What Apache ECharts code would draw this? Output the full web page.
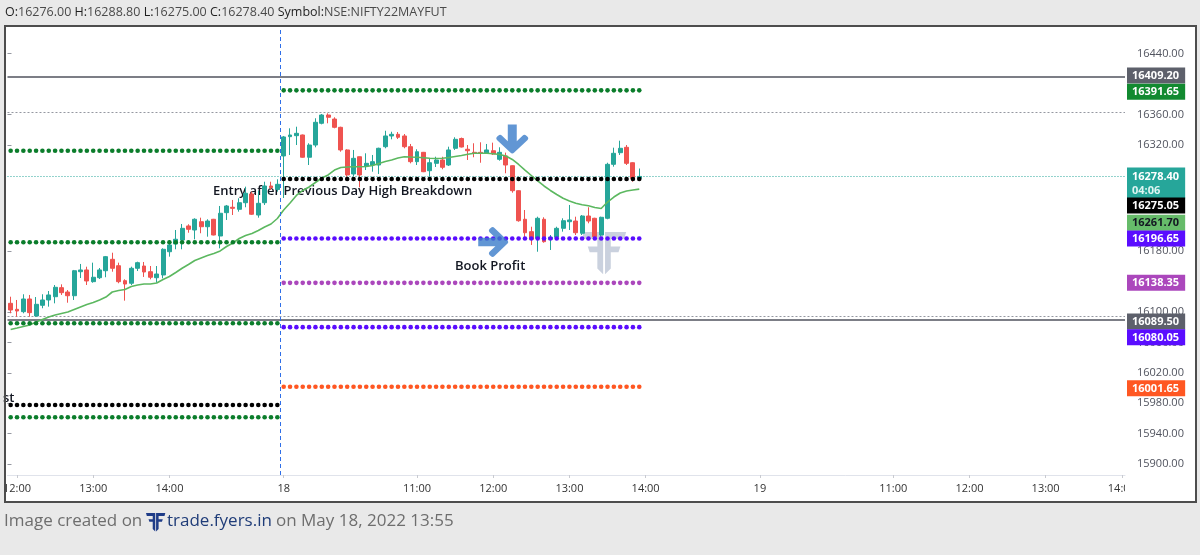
<!DOCTYPE html>
<html><head><meta charset="utf-8">
<script src="https://cdn.jsdelivr.net/npm/echarts@6/dist/echarts.min.js"></script>
<style>html,body{margin:0;padding:0;background:#e9e9e9;}#c{width:1200px;height:555px;}</style>
</head><body><div id="c"></div>
<script>
// ---------------- DATA ----------------
const sessionDays  = ['2022-05-17', '2022-05-18', '2022-05-19'];
const sessionStart = ['11:55', '09:15', '09:15'];
const sessionEnd   = ['15:25', '15:25', '14:00'];

const xTickIndex = [1, 13, 25, 43, 64, 76, 88, 100, 118, 139, 151, 163, 175];
const xTickText  = ['12:00','13:00','14:00','18','11:00','12:00','13:00','14:00','19','11:00','12:00','13:00','14:00'];

const yTickValues = [16440, 16360, 16320, 16180, 16100, 16060, 16020, 15980, 15940, 15900];

// [open, high, low, close]
const ohlcDay17 = [
 [16111.4,16120.1,16098.3,16102.6],[16103.5,16115.8,16093.8,16101.3],[16100.4,16123.3,16098.3,16117.1],
 [16117.1,16122.4,16093.8,16099.1],[16094.7,16119.7,16093.8,16110.1],[16108.8,16123.3,16104.9,16115.8],
 [16115.8,16127.6,16107.0,16122.4],[16120.1,16135.5,16111.4,16132.5],[16132.0,16136.4,16122.4,16125.4],
 [16126.3,16128.9,16112.2,16121.4],[16121.4,16155.3,16115.8,16154.3],[16153.0,16163.2,16144.7,16155.3],
 [16155.3,16159.6,16135.5,16140.8],[16139.9,16164.9,16138.5,16145.7],[16145.1,16157.9,16143.4,16155.3],
 [16154.3,16173.7,16145.7,16172.8],[16169.3,16178.0,16153.0,16157.5],[16160.9,16164.9,16137.8,16139.9],
 [16141.2,16143.0,16114.9,16136.8],[16137.8,16159.6,16135.5,16157.5],[16157.5,16166.2,16153.9,16164.9],
 [16160.5,16165.8,16146.1,16152.6],[16153.0,16160.5,16143.0,16145.7],[16145.1,16160.5,16138.5,16150.0],
 [16148.7,16183.8,16144.3,16182.5],[16179.3,16194.7,16172.8,16188.2],[16189.5,16207.9,16182.5,16195.7],
 [16194.7,16215.8,16182.5,16210.1],[16213.2,16215.4,16204.3,16208.8],[16207.9,16223.3,16195.6,16222.0],
 [16218.8,16224.1,16203.6,16212.2],[16212.2,16222.0,16199.1,16219.7],[16222.0,16222.5,16200.8,16201.3],
 [16200.0,16239.5,16183.8,16229.9],[16230.7,16240.8,16221.1,16239.5],[16237.8,16247.4,16227.6,16236.4],
 [16235.1,16249.6,16232.0,16243.8],[16243.8,16264.9,16237.8,16256.2],[16255.3,16258.3,16227.6,16228.6],
 [16227.6,16259.6,16224.1,16243.0],[16243.8,16271.4,16240.8,16265.8],[16265.8,16271.4,16260.5,16263.6],
 [16261.4,16274.6,16258.3,16268.0]
];
const ohlcDay18 = [
 [16305.3,16331.6,16250.0,16330.3],[16330.7,16341.7,16306.6,16332.9],[16332.0,16343.8,16319.7,16335.1],
 [16332.9,16333.5,16303.0,16303.6],[16303.6,16322.0,16293.4,16319.7],[16319.7,16354.9,16316.7,16349.6],
 [16348.3,16360.5,16346.9,16359.2],[16359.2,16361.4,16348.3,16356.2],[16353.9,16356.2,16341.7,16343.0],
 [16343.0,16343.8,16310.9,16313.2],[16313.2,16314.1,16278.0,16280.3],[16281.6,16313.2,16278.9,16302.2],
 [16304.3,16304.5,16264.1,16280.3],[16292.1,16308.8,16286.8,16295.6],[16293.4,16306.6,16284.6,16297.8],
 [16293.4,16316.2,16281.6,16315.4],[16317.5,16338.5,16315.4,16331.6],[16331.6,16337.2,16327.2,16333.8],
 [16333.8,16336.8,16327.6,16329.9],[16331.6,16334.2,16315.4,16317.5],[16317.5,16321.1,16295.6,16297.8],
 [16297.8,16314.1,16293.4,16310.9],[16310.1,16310.6,16284.0,16284.6],[16285.9,16302.2,16278.0,16296.4],
 [16295.6,16304.3,16290.8,16300.0],[16300.0,16304.3,16287.8,16290.4],[16293.4,16317.5,16292.1,16313.2],
 [16315.4,16329.9,16313.2,16327.2],[16328.3,16329.5,16316.5,16317.1],[16314.1,16319.7,16300.0,16312.2],
 [16310.1,16322.0,16303.6,16308.8],[16310.1,16323.3,16296.4,16308.8],[16308.8,16321.1,16307.9,16313.2],
 [16312.2,16322.8,16306.6,16307.9],[16300.9,16316.7,16299.1,16310.1],[16305.3,16309.7,16282.5,16293.4],
 [16292.5,16293.0,16257.0,16259.6],[16259.6,16260.0,16218.8,16220.1],[16222.0,16234.2,16194.7,16204.3],
 [16205.7,16212.2,16188.2,16195.6],[16197.0,16225.4,16179.3,16223.3],[16222.0,16224.6,16191.2,16192.5],
 [16195.6,16201.3,16181.6,16198.3],[16198.3,16212.2,16194.7,16210.1],[16210.1,16223.3,16205.7,16220.1],
 [16218.8,16240.8,16207.9,16221.1],[16219.7,16225.4,16201.3,16204.3],[16203.6,16227.6,16201.3,16226.3],
 [16226.3,16237.8,16216.7,16219.7],[16223.3,16224.0,16198.5,16199.1],[16201.3,16225.4,16199.1,16224.6],
 [16223.3,16296.4,16222.0,16294.3],[16294.3,16316.2,16291.2,16308.8],[16309.6,16325.4,16306.6,16315.4],
 [16316.7,16319.7,16293.4,16295.6],[16296.4,16297.0,16271.4,16275.9],[16276.0,16288.8,16275.0,16278.4]
];

const emaValues = [
 16077.0,16078.9,16080.9,16082.9,16086.8,16090.1,16093.4,16096.0,16098.0,16100.0,
 16103.3,16106.6,16109.9,16112.5,16115.8,16119.7,16126.3,16128.3,16129.6,16133.6,
 16135.5,16136.8,16136.8,16138.2,16142.8,16146.7,16152.0,16157.5,16162.5,16167.8,
 16171.1,16174.3,16177.0,16180.3,16186.2,16190.8,16196.7,16200.6,16203.3,16207.2,
 16211.8,16215.8,16223.0,16234.2,16243.4,16253.3,16259.9,16264.5,16270.4,16276.3,
 16280.3,16286.8,16290.1,16290.8,16291.2,16291.2,16291.4,16292.8,16295.4,16298.0,
 16300.0,16302.6,16304.3,16303.9,16303.6,16302.9,16302.2,16302.0,16302.2,16303.3,
 16304.6,16305.9,16307.5,16308.8,16308.8,16308.8,16308.2,16307.2,16305.3,16300.7,
 16294.1,16286.8,16279.6,16272.4,16265.8,16259.9,16254.6,16249.6,16246.1,16243.2,
 16241.2,16239.7,16237.5,16236.2,16244.7,16251.3,16256.6,16259.2,16260.5,16261.7
];

const day17Levels = [16312.2, 16191.7, 16085.1, 15977.6, 15961.4];
const day18Levels = [16391.65, 16275.05, 16196.65, 16138.35, 16080.05, 16001.65];

const solidLines      = [16409.20, 16089.50];
const dottedGrayLines = [16362.2, 16094.7];
const lastPrice       = 16278.40;

const tagValues = [16409.20, 16391.65, 16278.40, 16275.05, 16261.70, 16196.65, 16138.35, 16089.50, 16080.05, 16001.65];
const countdownText = '04:06';

const arrowDownPoint  = [79, 16327.6];
const arrowRightPoint = [76, 16192.1];

const headerParts = [['O:','16276.00'],['H:','16288.80'],['L:','16275.00'],['C:','16278.40'],['Symbol:','NSE:NIFTY22MAYFUT']];

// ---------------- STYLE ----------------
const FONT = "'Open Sans','Noto Sans',sans-serif";
const UP = '#26a69a', DOWN = '#ef5350';
const GREEN_DOT = '#0b7d2b';
const day17LevelColors = [GREEN_DOT, GREEN_DOT, GREEN_DOT, '#000000', GREEN_DOT];
const day18LevelColors = [GREEN_DOT, '#000000', '#5a0dff', '#ab47bc', '#5a0dff', '#ff5722'];
const tagBg    = ['#5d606b','#128a30','#26a69a','#000000','#66bb6a','#5a0dff','#ab47bc','#5d606b','#5a0dff','#ff5722'];
const tagFg    = ['#fff','#fff','#fff','#fff','#131722','#fff','#fff','#fff','#fff','#fff'];
const tagShiftPx = [-1.5, 1.5, 6.5, 26.5, 33.7, 0, 0, 1.5, 10, 1.5];

const Y_MIN = 15885.5, Y_MAX = 16475.0;
const GRID_TOP = 27, GRID_BOTTOM = 80, CH = 555;
const ptsPerPx = (Y_MAX - Y_MIN) / (CH - GRID_TOP - GRID_BOTTOM);

// logo outline (two mirrored F shapes) in a 46x44 box
const LOGO_LEFT  = [[0,0],[22,0],[22,44],[16,38],[16,21],[8,21],[6,15],[16,15],[16,7],[2,7]];
const LOGO_RIGHT = [[46,0],[24,0],[24,44],[30,38],[30,21],[38,21],[40,15],[30,15],[30,7],[44,7]];

// ---------------- BUILD ----------------
function toMin(t){ const [h,m] = t.split(':').map(Number); return h*60+m; }
function fmt(m){ return String(Math.floor(m/60)).padStart(2,'0') + ':' + String(m%60).padStart(2,'0'); }
const categories = [];
const daySlotStart = [];
sessionDays.forEach((d, i) => {
  daySlotStart.push(categories.length);
  for (let m = toMin(sessionStart[i]); m <= toMin(sessionEnd[i]); m += 5) categories.push(d + ' ' + fmt(m));
});
const N = categories.length;

const candleData = ohlcDay17.concat(ohlcDay18).map(r => [r[0], r[3], r[2], r[1]]);
const emaData = categories.map((c, i) => i < emaValues.length ? emaValues[i] : null);

function levelSeries(value, from, to, color) {
  return {
    type: 'line', data: categories.map((c, i) => (i >= from && i <= to) ? value : null),
    showAllSymbol: true, symbol: 'circle', symbolSize: 4.6,
    lineStyle: { width: 0, color: 'rgba(0,0,0,0)' }, itemStyle: { color: color },
    connectNulls: false, silent: true, z: 4, animation: false
  };
}
const d17from = daySlotStart[0], d17to = daySlotStart[1] - 1;
const d18from = daySlotStart[1], d18to = daySlotStart[1] + ohlcDay18.length - 1;
const levelSeriesList = [];
day17Levels.forEach((v, i) => levelSeriesList.push(levelSeries(v, d17from, d17to, day17LevelColors[i])));
day18Levels.forEach((v, i) => levelSeriesList.push(levelSeries(v, d18from, d18to, day18LevelColors[i])));

const refLines = [];
solidLines.forEach(v => refLines.push({ yAxis: v, lineStyle: { color: '#50535e', width: 1.5, type: 'solid' } }));
dottedGrayLines.forEach(v => refLines.push({ yAxis: v, lineStyle: { color: '#9598a1', width: 1, type: [2, 2] } }));
refLines.push({ yAxis: lastPrice, lineStyle: { color: UP, width: 1, type: [1, 2] } });

const tagLines = tagValues.map((v, i) => {
  const shown = v - tagShiftPx[i] * ptsPerPx;
  const isLast = v === lastPrice;
  return {
    yAxis: shown,
    lineStyle: { color: 'rgba(0,0,0,0)', width: 1 },
    label: {
      show: true, position: 'end', distance: 2, opacity: 1,
      formatter: isLast ? '{p|' + v.toFixed(2) + '}\n{t|' + countdownText + '}' : v.toFixed(2),
      color: tagFg[i], backgroundColor: tagBg[i], padding: [2, 6, 1, 5],
      fontFamily: FONT, fontSize: 11, fontWeight: 'bold', lineHeight: 13,
      rich: { p: { color: '#fff', fontFamily: FONT, fontSize: 11, fontWeight: 'bold', lineHeight: 14 },
              t: { color: '#dff5f2', fontFamily: FONT, fontSize: 11, fontWeight: 'bold', lineHeight: 14 } }
    }
  };
});

const ARROW_DOWN = 'path://M36,0 L64,0 L64,55 L82,37 Q88,31 94,37 L97,40 Q103,46 97,52 L56,93 Q50,99 44,93 L3,52 Q-3,46 3,40 L6,37 Q12,31 18,37 L36,55 Z';
const ARROW_RIGHT = 'path://M0,36 L0,64 L55,64 L37,82 Q31,88 37,94 L40,97 Q46,103 52,97 L93,56 Q99,50 93,44 L52,3 Q46,-3 40,3 L37,6 Q31,12 37,18 L55,36 Z';

function logoGroup(x, y, scale, fill, opacity, z) {
  return { type: 'group', x: x, y: y, scaleX: scale, scaleY: scale, z: z, silent: true, children: [
    { type: 'polygon', shape: { points: LOGO_LEFT },  style: { fill: fill, opacity: opacity }, z: z },
    { type: 'polygon', shape: { points: LOGO_RIGHT }, style: { fill: fill, opacity: opacity }, z: z }
  ]};
}

const headerRich = {
  k: { fill: '#1f1f1f', fontSize: 12.5, fontFamily: FONT },
  v: { fill: '#4a4a4a', fontSize: 12.5, fontFamily: FONT }
};
const headerText = headerParts.map(p => '{k|' + p[0] + '}{v|' + p[1] + '}').join('{k| }');

const option = {
  animation: false,
  backgroundColor: '#e9e9e9',
  grid: { left: 5, right: 75, top: GRID_TOP, bottom: GRID_BOTTOM, containLabel: false },
  xAxis: [{
    type: 'category', data: categories, boundaryGap: true,
    axisLine: { show: true, lineStyle: { color: '#e0e3eb', width: 1 } },
    axisTick: { show: true, alignWithLabel: true, length: 3, lineStyle: { color: '#c8cad0' },
                interval: (i) => xTickIndex.includes(i) },
    axisLabel: { interval: (i) => xTickIndex.includes(i), margin: 8, color: '#333',
                 fontFamily: FONT, fontSize: 11,
                 formatter: (val, i) => { const k = xTickIndex.indexOf(i); return k >= 0 ? xTickText[k] : ''; } },
    splitLine: { show: false }
  }, {
    type: 'value', min: 0, max: N, show: false
  }],
  yAxis: {
    type: 'value', position: 'right', min: Y_MIN, max: Y_MAX, scale: true,
    axisLine: { show: false },
    axisTick: { show: true, length: 4, lineStyle: { color: '#9598a1' }, customValues: yTickValues },
    axisLabel: { margin: 12, color: '#50535e', fontFamily: FONT, fontSize: 11,
                 customValues: yTickValues, formatter: v => v.toFixed(2) },
    splitLine: { show: false }
  },
  series: [
    { type: 'candlestick', data: candleData, barWidth: 4.4, z: 2,
      itemStyle: { color: UP, color0: DOWN, borderColor: UP, borderColor0: DOWN, borderWidth: 1 },
      markLine: { silent: true, symbol: ['none', 'none'], label: { show: false }, data: refLines, z: 1 } },
    { type: 'line', data: emaData, showSymbol: false, smooth: false, z: 3,
      lineStyle: { color: '#5cb860', width: 1.6 } },
    ...levelSeriesList,
    { type: 'scatter', data: [arrowDownPoint], symbol: ARROW_DOWN, symbolSize: [32, 29],
      itemStyle: { color: '#3a7cc9' }, z: 6, silent: true },
    { type: 'scatter', data: [arrowRightPoint], symbol: ARROW_RIGHT, symbolSize: [30, 30],
      itemStyle: { color: '#3a7cc9' }, z: 6, silent: true },
    { type: 'line', xAxisIndex: 1, data: [[0, Y_MIN]], showSymbol: false, lineStyle: { width: 0 }, silent: true,
      markLine: { silent: true, symbol: ['none', 'none'], label: { show: false },
        data: [{ xAxis: daySlotStart[1] }], lineStyle: { color: '#2f6fe8', width: 1, type: [4, 3] } } },
    { type: 'line', data: [], showSymbol: false, silent: true, z: 8,
      markLine: { silent: true, symbol: ['none', 'none'], data: tagLines, z: 8 } }
  ],
  graphic: [
    { type: 'rect', shape: { x: 5, y: 26, width: 1191, height: 476 }, style: { fill: '#ffffff' }, z: -10, silent: true },
    logoGroup(582, 232, 0.96, '#b8c2d3', 0.75, 1),
    { type: 'text', z: 1, silent: true, style: { text: 'Entry after Previous Day High Breakdown', x: 213, y: 191,
      verticalAlign: 'middle', font: '600 13px ' + FONT, fill: '#131722' } },
    { type: 'text', z: 1, silent: true, style: { text: 'Book Profit', x: 455, y: 266,
      verticalAlign: 'middle', font: '600 13px ' + FONT, fill: '#131722' } },
    { type: 'text', z: 1, silent: true, style: { text: 'st', x: 3, y: 398,
      verticalAlign: 'middle', font: '600 13px ' + FONT, fill: '#131722' } },
    { type: 'rect', shape: { x: 1125, y: 477, width: 70, height: 24 }, style: { fill: '#ffffff' }, z: 99, silent: true },
    { type: 'rect', shape: { x: 0, y: 470, width: 5, height: 35 }, style: { fill: '#e9e9e9' }, z: 99, silent: true },
    { type: 'rect', shape: { x: 5, y: 26, width: 1191, height: 476 }, style: { fill: 'none', stroke: '#4d4d4d', lineWidth: 2 }, z: 100, silent: true },
    { type: 'text', z: 100, silent: true, style: { text: headerText, rich: headerRich, x: 5, y: 12, verticalAlign: 'middle', fontSize: 12.5, fontFamily: FONT } },
    { type: 'text', z: 100, silent: true, style: { text: 'Image created on', x: 4, y: 521, verticalAlign: 'middle', font: '17px ' + FONT, fill: '#6e6e6e' } },
    logoGroup(146, 513, 0.42, '#1f3c88', 1, 100),
    { type: 'text', z: 100, silent: true, style: { text: 'trade.fyers.in', x: 167, y: 521, verticalAlign: 'middle', font: '17px ' + FONT, fill: '#1f3c78' } },
    { type: 'text', z: 100, silent: true, style: { text: 'on May 18, 2022 13:55', x: 276, y: 521, verticalAlign: 'middle', font: '17px ' + FONT, fill: '#6e6e6e' } }
  ]
};

const chart = echarts.init(document.getElementById('c'));
chart.setOption(option);
</script>
</body></html>
